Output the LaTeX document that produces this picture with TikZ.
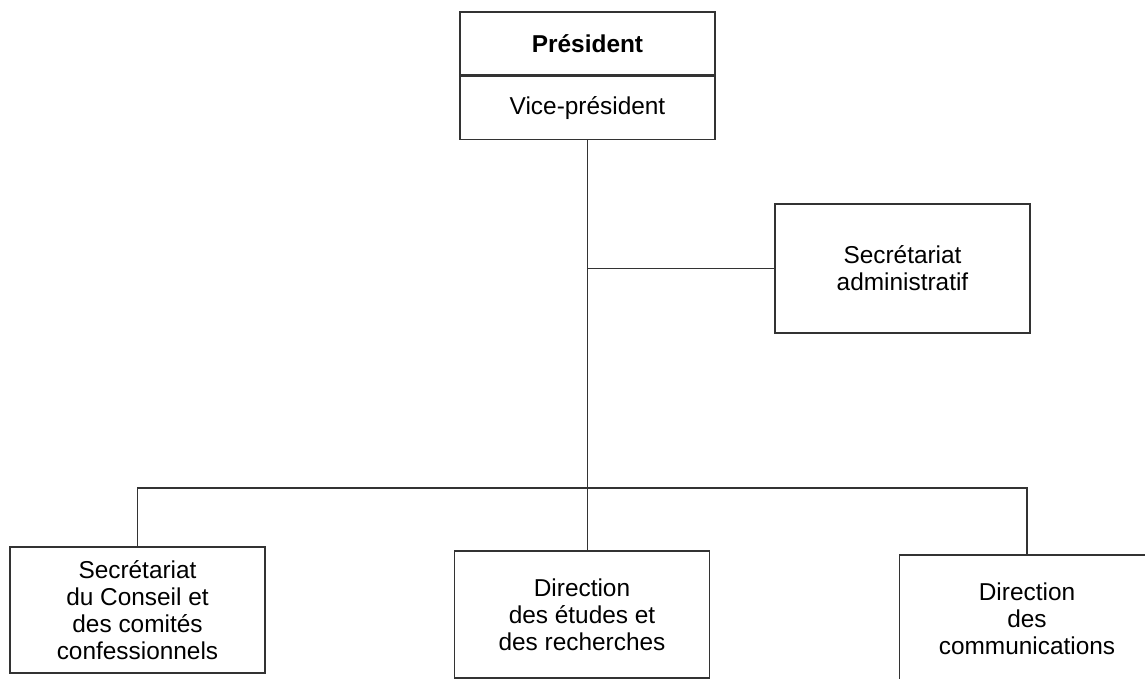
\documentclass[tikz,border=0pt]{standalone}
\usepackage{fontspec}
\setmainfont{Liberation Sans}
\usetikzlibrary{positioning}

\begin{document}
\begin{tikzpicture}[x=0.5pt,y=-0.5pt]
    \clip (0,0) rectangle (1145,679);
    %%%%% THE BOXES
    \begin{scope}[every node/.style={draw=black!80,line width=0.6pt,shape=rectangle,
        align=center,inner sep=0pt,minimum width=127.5pt,
        font=\fontsize{12.2}{13.6}\selectfont}]
      \node[minimum height=31.5pt] (PRES) at (587.5,43.5) {\textbf{Président}};
      \node[minimum height=31.5pt,below=0pt of PRES] (VICE) {Vice-président};
      \node[minimum height=64.5pt] (ADMIN) at (902.5,268.5) {Secrétariat\\administratif};
      \node[minimum height=63pt] (SECR) at (137.5,610) {Secrétariat\\du Conseil et\\des comités\\confessionnels};
      \node[minimum height=63.5pt] (ETUD) at (582,614.5) {Direction\\des études et\\des recherches};
      \node[minimum height=63.5pt] (COMM) at (1027,618.5) {Direction\\des\\communications};
    \end{scope}
    %%%%% THE LINKS
    \begin{scope}[draw=black!80,line width=0.6pt]
      \coordinate (BAR) at (587.5,488);
      \draw (VICE.south) -- (VICE.south |- ETUD.north);
      \draw (VICE.south |- ADMIN.west) -- (ADMIN.west);
      \draw (SECR.north) |- (BAR) -| (COMM.north);
    \end{scope}
\end{tikzpicture}
\end{document}
